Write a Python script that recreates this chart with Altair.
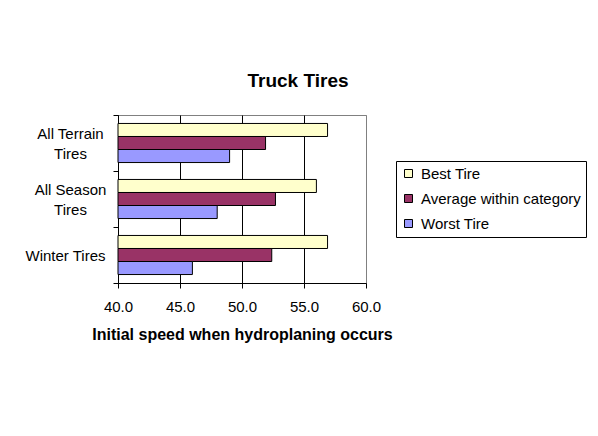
import altair as alt
import pandas as pd

categories = ["All Terrain Tires", "All Season Tires", "Winter Tires"]
series = ["Best Tire", "Average within category", "Worst Tire"]
best = [56.9, 56.0, 56.9]
average = [51.9, 52.7, 52.4]
worst = [49.0, 48.0, 46.0]
colors = ["#FFFFCC", "#993366", "#9999FF"]
ticks = [40, 45, 50, 55, 60]

rows = []
for i, c in enumerate(categories):
    for s, vals in zip(series, [best, average, worst]):
        rows.append({"category": c, "series": s, "value": vals[i], "base": ticks[0]})
df = pd.DataFrame(rows)

FONT = "Liberation Sans"
single = "datum.label == 'Winter Tires'"

chart = alt.Chart(df).mark_bar(stroke="black", strokeWidth=1).encode(
    x=alt.X(
        "value:Q",
        scale=alt.Scale(domain=[40, 60], nice=False, zero=False),
        axis=alt.Axis(
            values=ticks,
            format=".1f",
            title="Initial speed when hydroplaning occurs",
            grid=True,
            gridColor={"condition": {"test": "datum.value >= 60", "value": "#808080"}, "value": "black"},
            gridOpacity=1,
            tickSize=5,
            labelFlush=False,
            labelPadding=11,
            labelFontSize=15,
            titleFontSize=16,
            titleFontWeight="bold",
            titlePadding=12,
        ),
    ),
    x2="base:Q",
    y=alt.Y(
        "category:N",
        sort=categories,
        scale=alt.Scale(paddingInner=0, paddingOuter=0),
        axis=alt.Axis(
            title=None,
            tickBand="extent",
            grid=False,
            tickSize=5,
            labelAlign={"condition": {"test": single, "value": "right"}, "value": "center"},
            labelPadding={"condition": {"test": single, "value": 8}, "value": 43},
            labelOffset={"condition": {"test": single, "value": 0}, "value": -10},
            labelBaseline="middle",
            labelFontSize=15,
            labelLineHeight=20,
            labelExpr="(datum.label == 'Winter Tires' || !datum.label) ? datum.label : [replace(datum.label, ' Tires', ''), 'Tires']",
        ),
    ),
    yOffset=alt.YOffset(
        "series:N",
        sort=series,
        scale=alt.Scale(paddingInner=0, paddingOuter=0.65),
    ),
    color=alt.Color(
        "series:N",
        sort=series,
        scale=alt.Scale(domain=series, range=colors),
        legend=alt.Legend(
            orient="none",
            legendX=278,
            legendY=46,
            title=None,
            symbolType="square",
            symbolSize=64,
            symbolStrokeColor="black",
            symbolStrokeWidth=1,
            strokeColor="black",
            fillColor="white",
            padding=5,
            rowPadding=9,
            labelFontSize=15,
            labelFont=FONT,
            labelColor="black",
            labelLimit=300,
            labelOffset=5,
        ),
    ),
).properties(
    width=248,
    height=168,
    autosize=alt.AutoSizeParams(type="none"),
    padding={"left": 110, "top": 107, "right": 224, "bottom": 145},
    title=alt.TitleParams(
        "Truck Tires",
        fontSize=19,
        font=FONT,
        fontWeight="bold",
        dx=56,
        offset=17,
        anchor="middle",
        color="black",
    ),
).configure_view(
    stroke="#808080", strokeWidth=1
).configure_axis(
    domainColor="black",
    tickColor="black",
    labelColor="black",
    titleColor="black",
    labelFont=FONT,
    titleFont=FONT,
)

chart.save("out.html", embed_options={"renderer": "svg", "actions": False})
